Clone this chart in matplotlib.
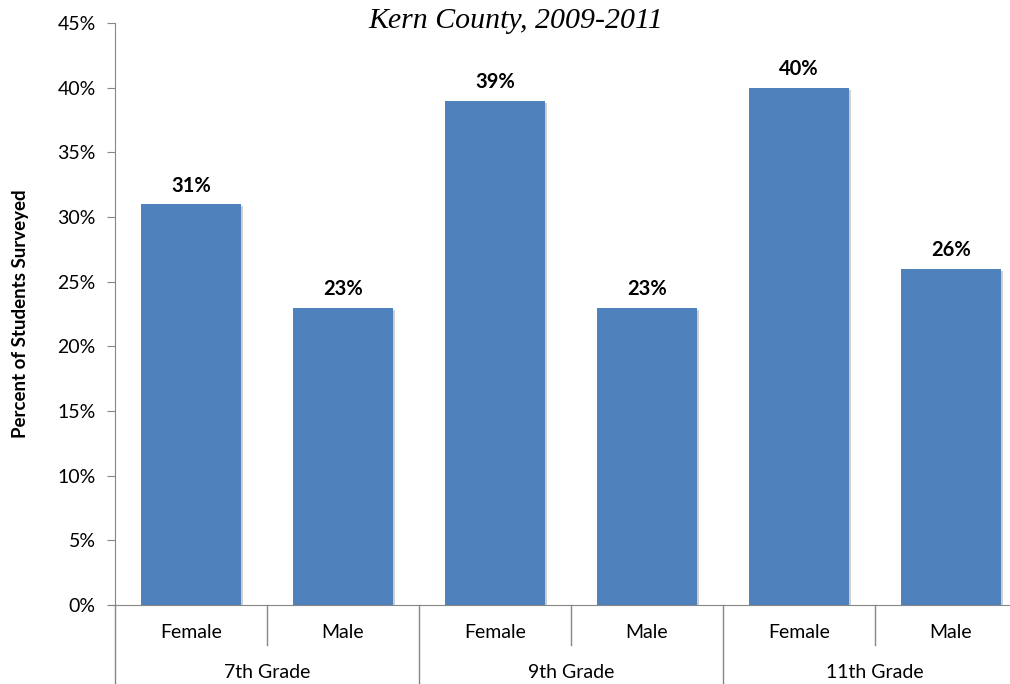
import matplotlib.pyplot as plt
import matplotlib.patheffects as pe
from matplotlib.transforms import blended_transform_factory
from matplotlib.ticker import FuncFormatter

GRADES = ["7th Grade", "9th Grade", "11th Grade"]
SEXES = ["Female", "Male"]
PERCENT = [31, 23, 39, 23, 40, 26]

BAR_COLOR = "#4F81BD"
AXIS_COLOR = "#868686"
FONT = ["Lato", "DejaVu Sans"]

fig = plt.figure(figsize=(10.1, 6.84), dpi=100)
ax = fig.add_axes([115 / 1010, 79 / 684, 912 / 1010, 582 / 684])

x = list(range(len(PERCENT)))
bars = ax.bar(x, PERCENT, width=100 / 152, color=BAR_COLOR, zorder=3)
for b in bars:
    b.set_path_effects([pe.SimplePatchShadow(offset=(1.5, -1.5), shadow_rgbFace="#b0b0b0", alpha=0.6), pe.Normal()])

for xi, v in zip(x, PERCENT):
    ax.annotate(f"{v}%", (xi, v), xytext=(0, 6), textcoords="offset points",
                ha="center", va="bottom", fontsize=14.5, fontweight="bold", family=FONT)

ax.set_xlim(-0.5, len(PERCENT) - 0.5)
ax.set_ylim(0, 45)
ax.set_yticks(range(0, 46, 5))
ax.yaxis.set_major_formatter(FuncFormatter(lambda v, _: f"{v:.0f}%"))
ax.tick_params(axis="y", direction="out", length=6, color=AXIS_COLOR, labelsize=14, pad=8)
for lab in ax.get_yticklabels():
    lab.set_family(FONT)
ax.set_xticks([])

for side in ("top", "right"):
    ax.spines[side].set_visible(False)
ax.spines["left"].set_color(AXIS_COLOR)
ax.spines["bottom"].set_color(AXIS_COLOR)
ax.spines["bottom"].set_bounds(-0.5 - 7 / 152, len(PERCENT) - 0.5)

# two-level category axis drawn below the plot
trans = blended_transform_factory(ax.transData, ax.transAxes)
px = 1 / 582
for i in range(len(PERCENT) + 1):
    depth = 79 if i % 2 == 0 else 40
    ax.plot([i - 0.5, i - 0.5], [0, -depth * px], transform=trans, color=AXIS_COLOR,
            lw=1, clip_on=False)
for i in x:
    ax.text(i, -27 * px, SEXES[i % 2], transform=trans, ha="center", va="center",
            fontsize=14, family=FONT)
for g, name in enumerate(GRADES):
    ax.text(2 * g + 0.5, -67 * px, name, transform=trans, ha="center", va="center",
            fontsize=14, family=FONT)

ax.set_ylabel("Percent of Students Surveyed", fontsize=13.5, fontweight="bold", family=FONT,
              labelpad=20)

fig.text(516 / 1010, 1 - 21 / 684, "Kern County, 2009-2011", ha="center", va="center",
         fontsize=21.5, style="italic", family="Liberation Serif")

fig.savefig("out.png", dpi=100)
